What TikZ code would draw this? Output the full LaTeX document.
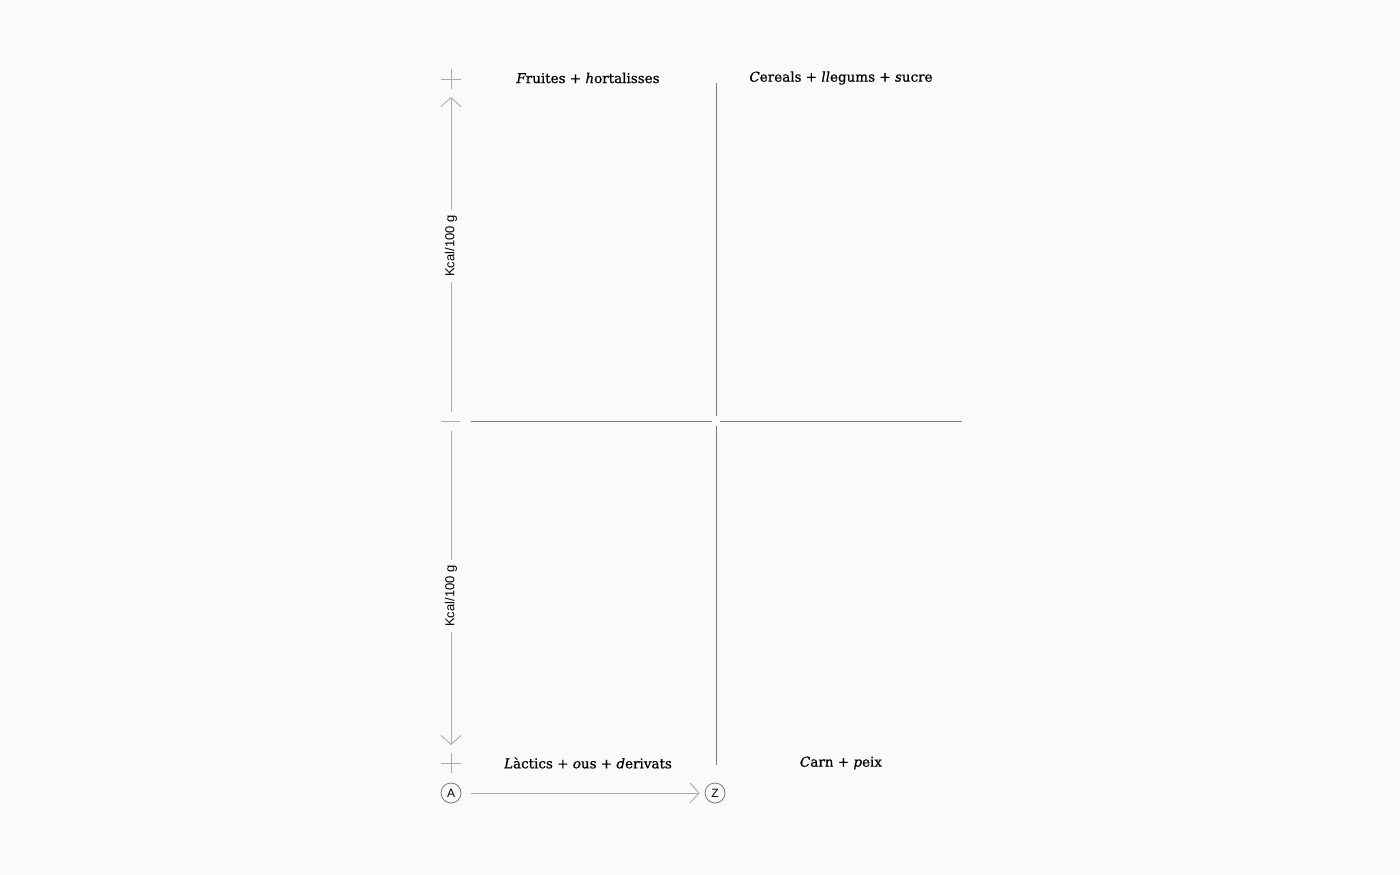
\documentclass[tikz,border=0pt]{standalone}
\usepackage{fontspec}
\setmainfont{DejaVu Serif}[FakeBold=0.6]
\newfontfamily\labfont{Liberation Sans}
\usetikzlibrary{arrows.meta}
\definecolor{bg}{HTML}{FAFAFA}
\definecolor{axisgray}{HTML}{ABABAB}
\definecolor{quadgray}{HTML}{7A7A7A}
\definecolor{ink}{HTML}{000000}
\tikzset{
  axisline/.style={draw=axisgray, line width=0.9pt},
  quadline/.style={draw=quadgray, line width=1pt},
  chev/.style={-{Straight Barb[length=9pt,width=20pt,line width=0.9pt]}},
  qlabel/.style={font=\fontsize{13.5}{16}\selectfont, text=ink, inner sep=0pt, anchor=center},
  kcal/.style={font=\labfont\fontsize{13}{15}\selectfont, text=ink, rotate=90, fill=bg, inner xsep=5pt, inner ysep=2pt},
  letter/.style={circle, draw=quadgray, line width=0.8pt, minimum size=20pt, inner sep=0pt, font=\labfont\fontsize{12}{14}\selectfont, text=ink}
}
\begin{document}
\begin{tikzpicture}[x=1pt,y=-1pt]
\fill[bg] (0,0) rectangle (1400,875);
\useasboundingbox (0,0) rectangle (1400,875);
% crosses
\draw[axisline] (441,79) -- (461,79) (451,69) -- (451,89);
\draw[axisline] (441,763) -- (461,763) (451,753) -- (451,773);
\draw[axisline] (441,421) -- (460,421);
% vertical axis arrows
\coordinate (utop) at (451,97);
\coordinate (ubot) at (451,412);
\coordinate (ltop) at (451,431);
\coordinate (lbot) at (451,745);
\draw[axisline, chev] (ubot) -- (utop);
\draw[axisline, chev] (ltop) -- (lbot);
\node[kcal] (k1) at (451,246) {Kcal/100 g};
\node[kcal] (k2) at (451,596) {Kcal/100 g};
% quadrant lines
\coordinate (hl1) at (471,421);
\coordinate (hl2) at (712,421);
\coordinate (hr1) at (720,421);
\coordinate (hr2) at (962,421);
\coordinate (vt1) at (716,83);
\coordinate (vt2) at (716,416);
\coordinate (vb1) at (716,426);
\coordinate (vb2) at (716,765);
\draw[quadline] (hl1) -- (hl2);
\draw[quadline] (hr1) -- (hr2);
\draw[quadline] (vt1) -- (vt2);
\draw[quadline] (vb1) -- (vb2);
% labels
\node[qlabel] (q1) at (588,78) {{\itshape F}ruites + {\itshape h}ortalisses};
\node[qlabel] (q2) at (841,78) {{\itshape C}ereals + {\itshape ll}egums + {\itshape s}ucre};
\node[qlabel] (q3) at (588,763) {{\itshape L}àctics + {\itshape o}us + {\itshape d}erivats};
\node[qlabel] (q4) at (841,763) {{\itshape C}arn + {\itshape p}eix};
% A to Z
\node[letter] (A) at (451,793) {A};
\node[letter] (Z) at (715,793) {Z};
\draw[axisline, chev, shorten <=10pt, shorten >=5pt] (A) -- (Z);
\end{tikzpicture}
\end{document}
